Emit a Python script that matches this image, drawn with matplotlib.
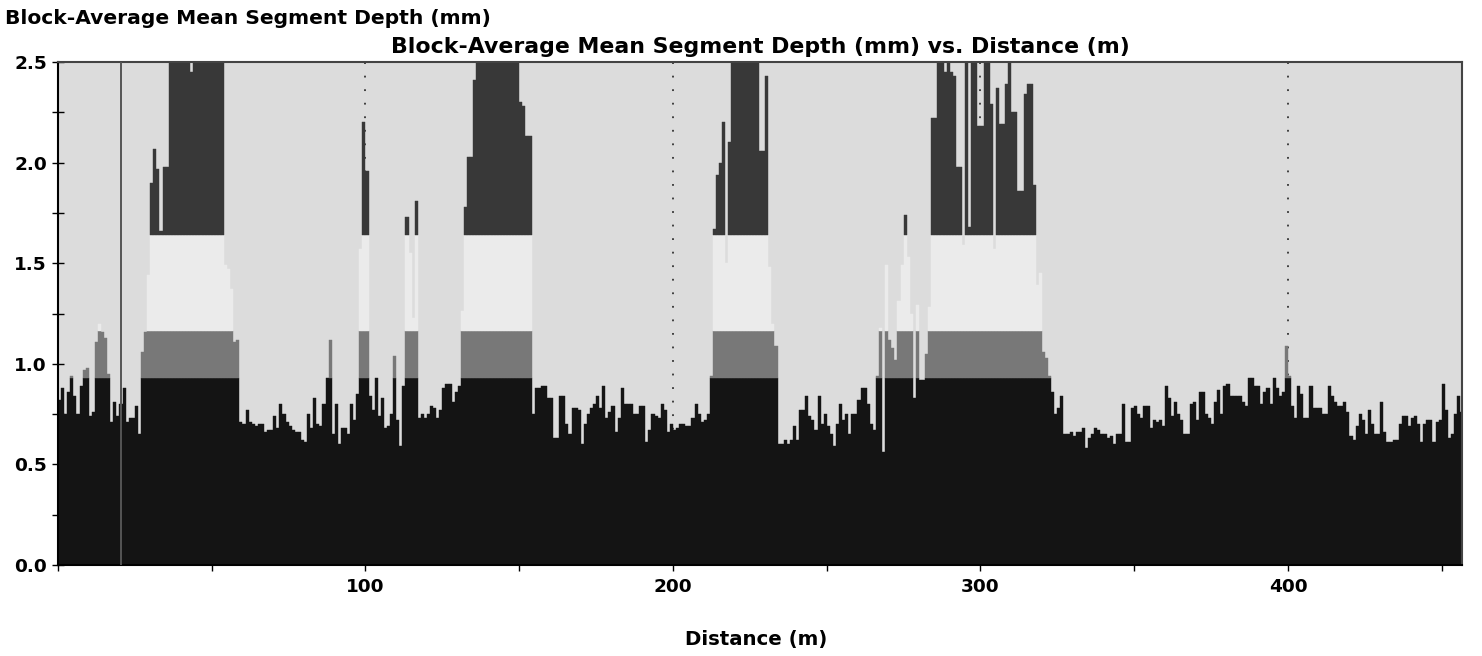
import numpy as np
import matplotlib
matplotlib.use("Agg")
import matplotlib.pyplot as plt
from matplotlib.ticker import MultipleLocator

# ---------------- data ----------------
title = "Block-Average Mean Segment Depth (mm) vs. Distance (m)"
y_label = "Block-Average Mean Segment Depth (mm)"
x_label = "Distance (m)"

bin_width_m = 1.0
# block-average mean segment depth (mm), one value per 1 m block (2.60 = off-scale)
depth_0_99 = [
    0.82, 0.88, 0.75, 0.86, 0.94, 0.84, 0.75, 0.89, 0.97, 0.98,
    0.74, 0.76, 1.11, 1.20, 1.16, 1.13, 0.95, 0.71, 0.81, 0.74,
    0.80, 0.88, 0.71, 0.73, 0.73, 0.79, 0.65, 1.06, 1.16, 1.44,
    1.90, 2.07, 1.97, 1.66, 1.98, 1.98, 2.60, 2.60, 2.60, 2.60,
    2.60, 2.60, 2.60, 2.45, 2.60, 2.60, 2.60, 2.60, 2.60, 2.60,
    2.60, 2.60, 2.60, 2.60, 1.49, 1.47, 1.37, 1.11, 1.12, 0.71,
    0.70, 0.77, 0.71, 0.70, 0.69, 0.70, 0.70, 0.66, 0.67, 0.67,
    0.74, 0.68, 0.80, 0.75, 0.71, 0.69, 0.67, 0.66, 0.66, 0.62,
    0.61, 0.75, 0.68, 0.83, 0.70, 0.69, 0.80, 0.93, 1.12, 0.65,
    0.80, 0.60, 0.68, 0.68, 0.65, 0.80, 0.72, 0.85, 1.57, 2.20,
]
depth_100_199 = [
    1.96, 0.84, 0.77, 0.93, 0.74, 0.83, 0.68, 0.69, 0.75, 1.04,
    0.72, 0.59, 0.89, 1.73, 1.55, 1.23, 1.81, 0.73, 0.75, 0.73,
    0.75, 0.79, 0.78, 0.73, 0.77, 0.88, 0.90, 0.90, 0.81, 0.86,
    0.89, 1.26, 1.78, 2.03, 2.03, 2.41, 2.60, 2.60, 2.60, 2.60,
    2.60, 2.60, 2.60, 2.60, 2.60, 2.60, 2.60, 2.60, 2.60, 2.60,
    2.30, 2.28, 2.13, 2.13, 0.75, 0.88, 0.88, 0.89, 0.89, 0.83,
    0.83, 0.63, 0.63, 0.84, 0.84, 0.70, 0.65, 0.78, 0.78, 0.77,
    0.60, 0.70, 0.75, 0.78, 0.80, 0.84, 0.78, 0.89, 0.73, 0.76,
    0.79, 0.66, 0.73, 0.88, 0.80, 0.80, 0.80, 0.75, 0.75, 0.79,
    0.79, 0.61, 0.67, 0.75, 0.74, 0.73, 0.80, 0.77, 0.66, 0.70,
]
depth_200_299 = [
    0.67, 0.68, 0.70, 0.70, 0.69, 0.69, 0.73, 0.80, 0.75, 0.71,
    0.72, 0.75, 0.94, 1.67, 1.94, 2.00, 2.20, 1.50, 2.10, 2.60,
    2.60, 2.60, 2.60, 2.60, 2.60, 2.60, 2.60, 2.60, 2.06, 2.06,
    2.43, 1.48, 1.20, 1.09, 0.60, 0.60, 0.62, 0.60, 0.62, 0.69,
    0.62, 0.77, 0.77, 0.84, 0.74, 0.72, 0.67, 0.84, 0.70, 0.75,
    0.69, 0.65, 0.59, 0.70, 0.80, 0.72, 0.75, 0.65, 0.75, 0.75,
    0.82, 0.88, 0.88, 0.80, 0.70, 0.67, 0.94, 1.18, 0.56, 1.49,
    1.12, 1.08, 1.02, 1.31, 1.49, 1.74, 1.53, 1.25, 0.83, 1.29,
    0.92, 0.92, 1.05, 1.28, 2.22, 2.22, 2.60, 2.60, 2.45, 2.60,
    2.45, 2.43, 1.98, 1.98, 1.59, 2.60, 1.68, 2.60, 2.60, 2.18,
]
depth_300_399 = [
    2.18, 2.60, 2.60, 2.29, 1.57, 2.37, 2.19, 2.19, 2.39, 2.60,
    2.25, 2.25, 1.86, 1.86, 2.34, 2.39, 2.39, 1.89, 1.39, 1.45,
    1.06, 1.03, 0.94, 0.86, 0.75, 0.78, 0.84, 0.65, 0.65, 0.66,
    0.64, 0.66, 0.66, 0.68, 0.58, 0.63, 0.65, 0.68, 0.67, 0.65,
    0.65, 0.63, 0.64, 0.60, 0.65, 0.65, 0.80, 0.61, 0.61, 0.78,
    0.79, 0.75, 0.73, 0.79, 0.79, 0.68, 0.72, 0.71, 0.72, 0.69,
    0.89, 0.83, 0.74, 0.81, 0.75, 0.72, 0.65, 0.65, 0.80, 0.81,
    0.72, 0.86, 0.86, 0.75, 0.73, 0.70, 0.81, 0.87, 0.75, 0.89,
    0.90, 0.84, 0.84, 0.84, 0.84, 0.81, 0.79, 0.93, 0.93, 0.89,
    0.89, 0.80, 0.86, 0.88, 0.80, 0.93, 0.88, 0.84, 0.86, 1.09,
]
depth_400_456 = [
    0.94, 0.79, 0.73, 0.89, 0.85, 0.73, 0.73, 0.89, 0.78, 0.78,
    0.78, 0.75, 0.75, 0.89, 0.84, 0.81, 0.79, 0.79, 0.81, 0.76,
    0.64, 0.62, 0.69, 0.75, 0.72, 0.65, 0.77, 0.70, 0.65, 0.65,
    0.81, 0.66, 0.61, 0.61, 0.62, 0.62, 0.70, 0.74, 0.74, 0.69,
    0.73, 0.74, 0.70, 0.61, 0.70, 0.72, 0.72, 0.61, 0.71, 0.72,
    0.90, 0.77, 0.63, 0.65, 0.75, 0.84, 0.76,
]

# severity thresholds (mm) that split each bar into colour bands
thresholds = [0.93, 1.165, 1.64]
band_colors = ["#141414", "#787878", "#ebebeb", "#383838"]

marker_line_x = 20.4
grid_x = [100, 200, 300, 400]
x_max = 456.6
y_max = 2.5

# ---------------- plot ----------------
depth = np.array(depth_0_99 + depth_100_199 + depth_200_299 + depth_300_399 + depth_400_456)
x = np.arange(len(depth)) * bin_width_m

fig = plt.figure(figsize=(14.82, 6.56), dpi=100)
W, H = 1482, 656
ax = fig.add_axes([58 / W, 1 - 565 / H, 1404 / W, 503 / H])
ax.set_facecolor("#dcdcdc")

for gx in grid_x:
    ax.axvline(gx, color="#333333", lw=1.3, linestyle=(0, (1, 6.5)), zorder=1)
ax.axvline(marker_line_x, color="#555555", lw=1.4, zorder=4)

edges = [0.0] + thresholds + [np.inf]
for k in range(4):
    lo, hi = edges[k], edges[k + 1]
    h = np.clip(depth, lo, hi) - lo
    m = h > 0
    ax.bar(x[m], h[m], bottom=lo, width=bin_width_m, align="edge",
           color=band_colors[k], edgecolor=band_colors[k], linewidth=0.3, zorder=2)

ax.set_xlim(0, x_max)
ax.set_ylim(0, y_max)

ax.xaxis.set_minor_locator(MultipleLocator(50))
ax.yaxis.set_minor_locator(MultipleLocator(0.25))
ax.set_xticks([100, 200, 300, 400])
ax.set_xticklabels(["100", "200", "300", "400"])
ax.set_yticks(np.arange(0, 2.51, 0.5))
ax.set_yticklabels([f"{v:.1f}" for v in np.arange(0, 2.51, 0.5)])

tick_font = dict(family="DejaVu Sans", weight="bold", size=13.3)
for lab in ax.get_xticklabels() + ax.get_yticklabels():
    lab.set_fontproperties(matplotlib.font_manager.FontProperties(**tick_font))

ax.tick_params(axis="x", which="both", direction="out", length=4, width=1,
               color="black", pad=5)
ax.tick_params(axis="y", which="both", direction="inout", length=8, width=1,
               color="black", pad=4)

for side in ["left", "bottom"]:
    ax.spines[side].set_color("black")
    ax.spines[side].set_linewidth(1.5)
for side in ["top", "right"]:
    ax.spines[side].set_color("#444444")
    ax.spines[side].set_linewidth(1.5)

fig.text(5 / W, 1 - 19 / H, y_label, ha="left", va="center",
         family="DejaVu Sans", weight="bold", size=14.6)
fig.text(760 / W, 1 - 47 / H, title, ha="center", va="center",
         family="DejaVu Sans", weight="bold", size=15.8)
fig.text(756 / W, 1 - 639 / H, x_label, ha="center", va="center",
         family="DejaVu Sans", weight="bold", size=14.2)

fig.savefig("out.png", dpi=100, facecolor="white")
